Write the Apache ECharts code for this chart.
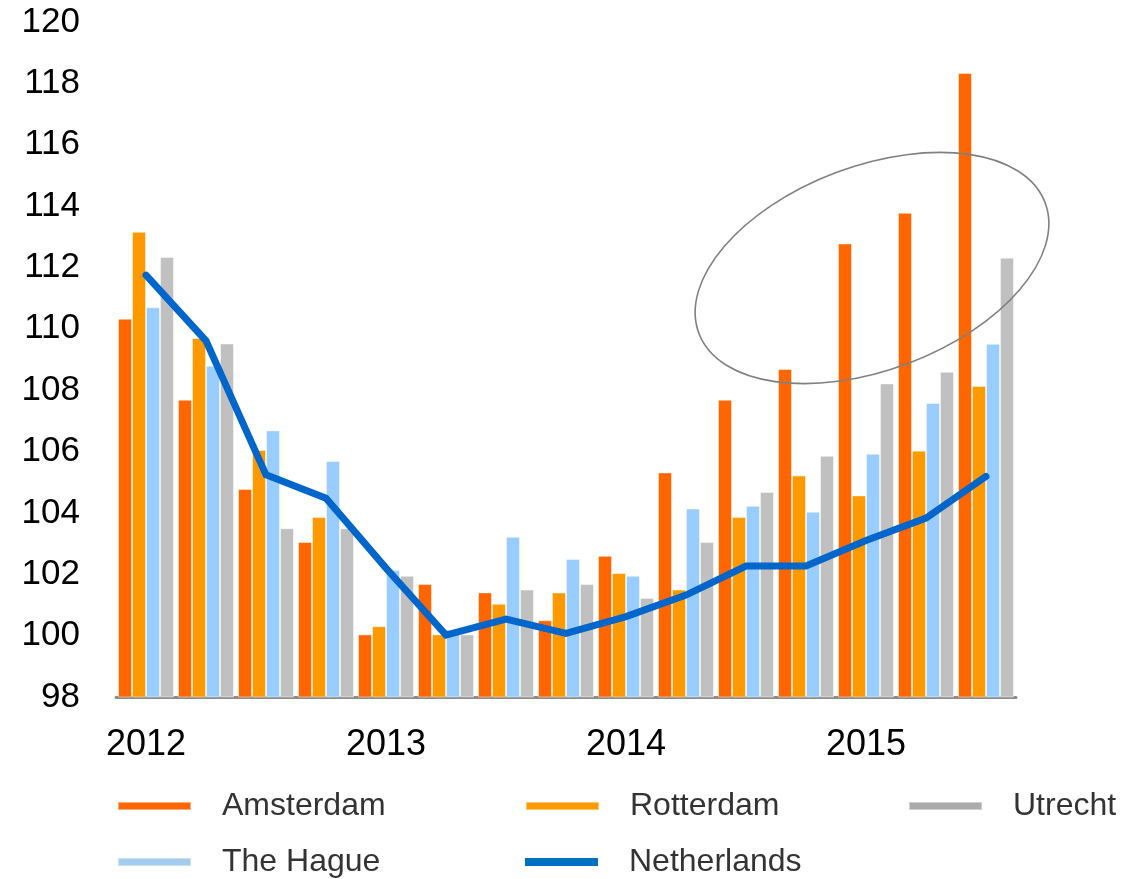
<!DOCTYPE html>
<html>
<head>
<meta charset="utf-8">
<script src="https://cdn.jsdelivr.net/npm/echarts@6/dist/echarts.min.js"></script>
<style>
html,body{margin:0;padding:0;background:#fff;}
#chart{width:1148px;height:879px;}
</style>
</head>
<body>
<div id="chart"></div>
<script>
var categories = ['2012 Q1','2012 Q2','2012 Q3','2012 Q4','2013 Q1','2013 Q2','2013 Q3','2013 Q4','2014 Q1','2014 Q2','2014 Q3','2014 Q4','2015 Q1','2015 Q2','2015 Q3'];
var amsterdam   = [110.33,107.69,104.78,103.05,100.04,101.68,101.41,100.50,102.60,105.32,107.69,108.69,112.78,113.78,118.34];
var rotterdam   = [113.16,109.70,106.05,103.87,100.31,100.04,101.04,101.41,102.04,101.50,103.87,105.22,104.57,106.03,108.14];
var theHague    = [110.70,108.80,106.69,105.69,102.14,100.20,103.22,102.50,101.95,104.14,104.23,104.04,105.93,107.58,109.51];
var utrecht     = [112.34,109.52,103.50,103.50,101.95,100.04,101.50,101.68,101.23,103.05,104.68,105.86,108.22,108.60,112.32];
var netherlands = [111.75,109.61,105.24,104.48,102.20,100.02,100.54,100.07,100.62,101.32,102.27,102.27,103.10,103.83,105.19];
var yTicks = {min:98, max:120, interval:2};

var chart = echarts.init(document.getElementById('chart'));
var font = '"Liberation Sans", Arial, sans-serif';
function leg(name, left, top, iconColor) {
  return {
    data:[{name:name, icon:'rect', itemStyle:{color:iconColor}}],
    left:left, top:top, padding:0,
    itemWidth:73, itemHeight:8,
    textStyle:{fontFamily:font, fontSize:32, color:'#333', padding:[0,0,0,26]}
  };
}
function bar(name, data, color) {
  return {name:name, type:'bar', data:data, barGap:'0%', barCategoryGap:'6.7%',
    itemStyle:{color:color, borderColor:'rgba(255,255,255,0.45)', borderWidth:1}};
}
chart.setOption({
  animation:false,
  grid:{left:116, right:132, top:22, bottom:182},
  legend:[
    leg('Amsterdam',117,790,'#FF6600'),
    leg('Rotterdam',525,790,'#FF9900'),
    leg('Utrecht',908,790,'#AAAAAA'),
    leg('The Hague',117,846,'#A3CDEF'),
    leg('Netherlands',525,846,'#0070C0')
  ],
  xAxis:{type:'category', data:categories,
    axisLine:{lineStyle:{color:'#8c8c8c', width:3}},
    axisTick:{show:false},
    axisLabel:{interval:3, margin:30, fontFamily:font, fontSize:36, color:'#000',
      formatter:function(v){return v.split(' ')[0];}}
  },
  yAxis:{type:'value', min:yTicks.min, max:yTicks.max, interval:yTicks.interval,
    splitLine:{show:false}, axisLine:{show:false}, axisTick:{show:false},
    axisLabel:{margin:36, fontFamily:font, fontSize:35, color:'#000'}
  },
  series:[
    bar('Amsterdam', amsterdam, '#FF6600'),
    bar('Rotterdam', rotterdam, '#FF9900'),
    bar('The Hague', theHague, '#99CCFF'),
    bar('Utrecht', utrecht, '#C0C0C0'),
    {name:'Netherlands', type:'line', data:netherlands, symbol:'none', z:5,
      lineStyle:{color:'#0066CC', width:7, cap:'round', join:'miter'}, itemStyle:{color:'#0066CC'}}
  ],
  graphic:[{type:'ellipse', x:872, y:268, rotation:0.36, z:10,
    shape:{cx:0, cy:0, rx:185, ry:102},
    style:{fill:'none', stroke:'#808080', lineWidth:1.6}}]
});
</script>
</body>
</html>
